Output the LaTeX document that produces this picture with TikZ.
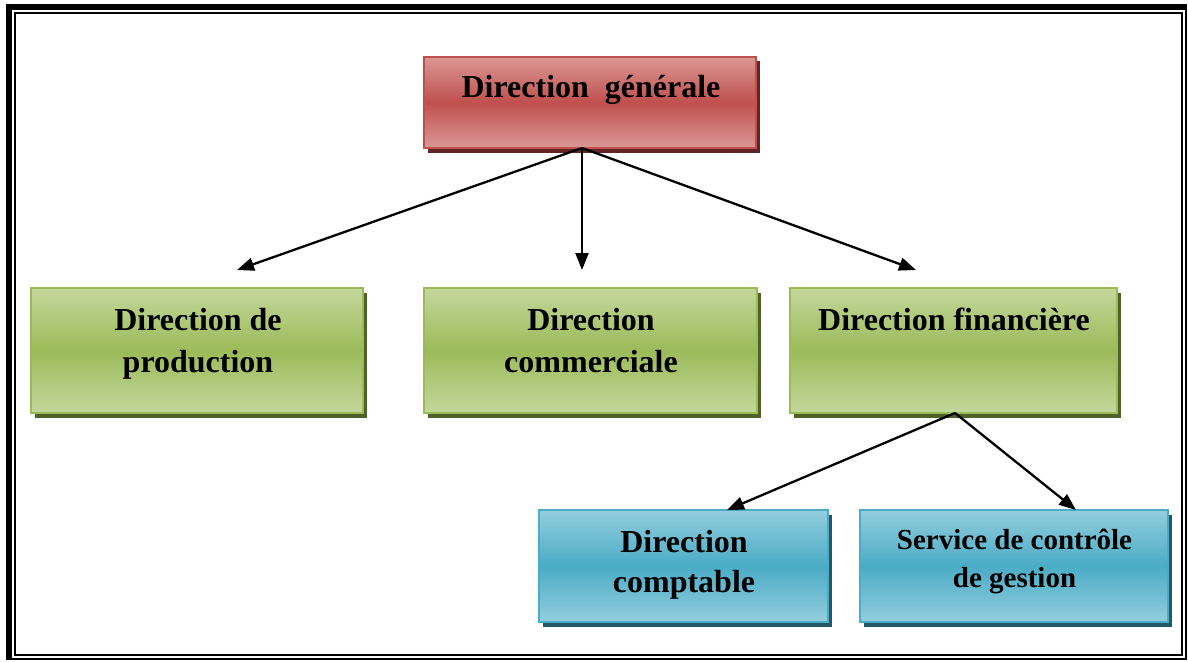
\documentclass[tikz,border=0pt]{standalone}
\usepackage{fontspec}
\setmainfont{Liberation Serif}
\usetikzlibrary{arrows.meta,shadows}

% palette
\definecolor{redMid}{HTML}{C0504D}
\definecolor{redLight}{HTML}{DA9896}
\definecolor{redDark}{HTML}{632523}
\definecolor{greenMid}{HTML}{9BBB59}
\definecolor{greenLight}{HTML}{C4D79C}
\definecolor{greenDark}{HTML}{4F6228}
\definecolor{blueMid}{HTML}{4BACC6}
\definecolor{blueLight}{HTML}{93CDDD}
\definecolor{blueDark}{HTML}{215968}

\begin{document}
\begin{tikzpicture}[
  x=1pt, y=-1pt,
  boxbase/.style={rectangle, line width=2.5pt, inner sep=0pt, outer sep=0pt},
  genbox/.style={boxbase, draw=redMid, top color=redLight, bottom color=redLight, middle color=redMid,
    drop shadow={shadow xshift=4pt, shadow yshift=-4.5pt, fill=redDark, opacity=1}},
  unitbox/.style={boxbase, draw=greenMid, top color=greenLight, bottom color=greenLight, middle color=greenMid,
    drop shadow={shadow xshift=4pt, shadow yshift=-4.5pt, fill=greenDark, opacity=1}},
  subbox/.style={boxbase, draw=blueMid, top color=blueLight, bottom color=blueLight, middle color=blueMid,
    drop shadow={shadow xshift=4pt, shadow yshift=-4.5pt, fill=blueDark, opacity=1}},
  lbl/.style={anchor=base, inner sep=0pt, font=\fontsize{32}{38}\selectfont\bfseries},
  lblsmall/.style={anchor=base, inner sep=0pt, font=\fontsize{29}{35}\selectfont\bfseries},
  arr/.style={line width=2.3pt, -{Triangle[length=17pt, width=13pt]}},
]
\useasboundingbox (0,0) rectangle (1188,661);
\fill[white] (0,0) rectangle (1188,661);

% page frame: thick-thin outer rule and thin inner rule
\fill[black] (6,4) rectangle (1187,10);
\fill[black] (6,4) rectangle (12,660);
\fill[black] (1185,4) rectangle (1187,660);
\fill[black] (6,658) rectangle (1187,660);
\draw[line width=2pt] (15,13) rectangle (1182,655);

% boxes
\node[genbox, minimum width=332pt, minimum height=91pt] (gen) at (590,102.5) {};
\node[unitbox, minimum width=332pt, minimum height=125pt] (prod) at (197,350.5) {};
\node[unitbox, minimum width=333pt, minimum height=125pt] (comm) at (590.5,350.5) {};
\node[unitbox, minimum width=327pt, minimum height=125pt] (fin) at (953.5,350.5) {};
\node[subbox, minimum width=289pt, minimum height=112pt] (compt) at (683.5,566) {};
\node[subbox, minimum width=308pt, minimum height=112pt] (ctrl) at (1014,566) {};

% labels
\node[lbl] (genT) at (591,97) {Direction\ \ générale};
\node[lbl] (prodA) at (198,330) {Direction de};
\node[lbl] (prodB) at (198,372) {production};
\node[lbl] (commA) at (591,330) {Direction};
\node[lbl] (commB) at (591,372) {commerciale};
\node[lbl] (finA) at (954,330) {Direction financière};
\node[lbl] (comptA) at (684,552) {Direction};
\node[lbl] (comptB) at (684,592) {comptable};
\node[lblsmall] (ctrlA) at (1014.5,549) {Service de contrôle};
\node[lblsmall] (ctrlB) at (1014.5,587) {de gestion};

% connector ends
\coordinate (genOut) at (582,148);
\coordinate (prodIn) at (237,270);
\coordinate (commIn) at (582,270);
\coordinate (finIn) at (916,270);
\coordinate (finOut) at (955,413);
\coordinate (comptIn) at (727,510);
\coordinate (ctrlIn) at (1076,510);

% connectors
\draw[arr] (genOut) -- (prodIn);
\draw[arr] (genOut) -- (commIn);
\draw[arr] (genOut) -- (finIn);
\draw[arr] (finOut) -- (comptIn);
\draw[arr] (finOut) -- (ctrlIn);
\end{tikzpicture}
\end{document}
